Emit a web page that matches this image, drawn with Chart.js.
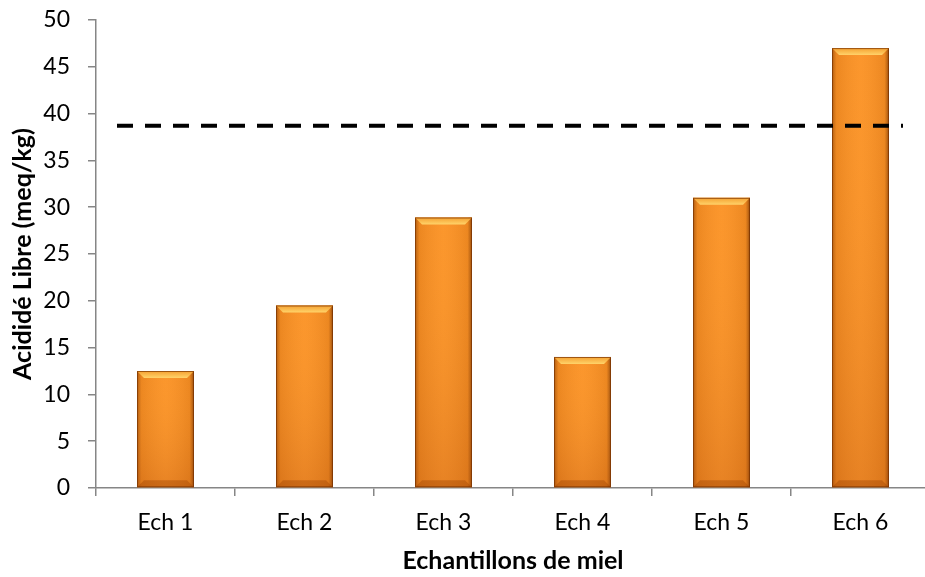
<!DOCTYPE html>
<html>
<head>
<meta charset="utf-8">
<script src="https://cdn.jsdelivr.net/npm/chart.js@4.4.1/dist/chart.umd.min.js"></script>
<style>
  html, body { margin: 0; padding: 0; background: #fff; overflow: hidden; }
  #wrap { width: 940px; height: 577px; }
</style>
</head>
<body>
<div id="wrap"><canvas id="chart" width="940" height="577"></canvas></div>
<script>
// values
const categories = ["Ech 1", "Ech 2", "Ech 3", "Ech 4", "Ech 5", "Ech 6"];
const acidity = [12.5, 19.5, 28.9, 14, 31, 47];
const yTicks = [0, 5, 10, 15, 20, 25, 30, 35, 40, 45, 50];
const limitValue = 38.7; // dashed reference line

const FONT = "Lato, 'Open Sans', sans-serif";
const AXIS = "#868686";

// Excel-ish bevelled look drawn over each bar
const bevelPlugin = {
  id: "bevel",
  afterDatasetsDraw(chart) {
    const { ctx } = chart;
    chart.getDatasetMeta(0).data.forEach((bar) => {
      const { x, y, base, width } = bar.getProps(["x", "y", "base", "width"], true);
      const l = x - width / 2, r = x + width / 2, h = base - y, b = 7;
      ctx.save();
      // side shading
      const g = ctx.createLinearGradient(l, 0, r, 0);
      g.addColorStop(0, "rgba(110,45,0,0.55)");
      g.addColorStop(0.08, "rgba(150,70,0,0.15)");
      g.addColorStop(0.5, "rgba(255,200,120,0.08)");
      g.addColorStop(0.92, "rgba(150,70,0,0.15)");
      g.addColorStop(1, "rgba(90,35,0,0.65)");
      ctx.fillStyle = g;
      ctx.fillRect(l, y, width, h);
      // vertical darkening toward the base
      const v = ctx.createLinearGradient(0, y, 0, base);
      v.addColorStop(0, "rgba(255,170,60,0)");
      v.addColorStop(1, "rgba(170,70,10,0.25)");
      ctx.fillStyle = v;
      ctx.fillRect(l, y, width, h);
      // top bevel
      ctx.beginPath();
      ctx.moveTo(l, y); ctx.lineTo(r, y); ctx.lineTo(r - b, y + b); ctx.lineTo(l + b, y + b); ctx.closePath();
      const t = ctx.createLinearGradient(0, y, 0, y + b);
      t.addColorStop(0, "#f5a030");
      t.addColorStop(1, "#ffd36a");
      ctx.fillStyle = t;
      ctx.fill();
      // bottom bevel
      ctx.beginPath();
      ctx.moveTo(l, base); ctx.lineTo(r, base); ctx.lineTo(r - b, base - b); ctx.lineTo(l + b, base - b); ctx.closePath();
      ctx.fillStyle = "rgba(150,60,0,0.35)";
      ctx.fill();
      ctx.strokeStyle = "rgba(120,50,0,0.7)";
      ctx.lineWidth = 1;
      ctx.strokeRect(l + 0.5, y + 0.5, width - 1, h - 1);
      ctx.restore();
    });
  },
};

const limitLinePlugin = {
  id: "limitLine",
  afterDatasetsDraw(chart) {
    const { ctx, chartArea, scales } = chart;
    const yp = scales.y.getPixelForValue(limitValue);
    ctx.save();
    ctx.strokeStyle = "#000";
    ctx.lineWidth = 4;
    ctx.setLineDash([16, 12]);
    ctx.beginPath();
    ctx.moveTo(chartArea.left + 21, yp);
    ctx.lineTo(chartArea.right - 27, yp);
    ctx.stroke();
    ctx.restore();
  },
};

new Chart(document.getElementById("chart"), {
  type: "bar",
  data: {
    labels: categories,
    datasets: [{
      data: acidity,
      backgroundColor: "#fb9226",
      borderWidth: 0,
      categoryPercentage: 1,
      barPercentage: 0.41,
    }],
  },
  options: {
    responsive: false,
    animation: false,
    layout: { padding: { top: 20, right: 10, left: 0, bottom: 0 } },
    plugins: { legend: { display: false }, tooltip: { enabled: false } },
    scales: {
      x: {
        grid: { drawOnChartArea: false, drawTicks: true, tickLength: 8, color: AXIS, lineWidth: 1.5 },
        border: { color: AXIS, width: 1.5 },
        ticks: { color: "#000", padding: 13, font: { family: FONT, size: 23 } },
        title: { display: true, text: "Echantillons de miel", color: "#000", padding: { top: 4, bottom: 1 }, font: { family: FONT, size: 25, weight: "bold" } },
        afterFit(scale) { scale.height = 89; scale.paddingLeft = 0; scale.paddingRight = 0; },
      },
      y: {
        min: 0,
        max: 50,
        afterBuildTicks(scale) { scale.ticks = yTicks.map((v) => ({ value: v })); },
        grid: { drawOnChartArea: false, drawTicks: true, tickLength: 8, color: AXIS, lineWidth: 1.5 },
        border: { color: AXIS, width: 1.5 },
        ticks: { color: "#000", padding: 18, font: { family: FONT, size: 23 } },
        title: { display: true, text: "Acididé Libre (meq/kg)", color: "#000", padding: { top: 8, bottom: 0 }, font: { family: FONT, size: 25, weight: "bold" } },
        afterFit(scale) { scale.width = 96; scale.paddingTop = 0; scale.paddingBottom = 0; },
      },
    },
  },
  plugins: [bevelPlugin, limitLinePlugin],
});
</script>
</body>
</html>
